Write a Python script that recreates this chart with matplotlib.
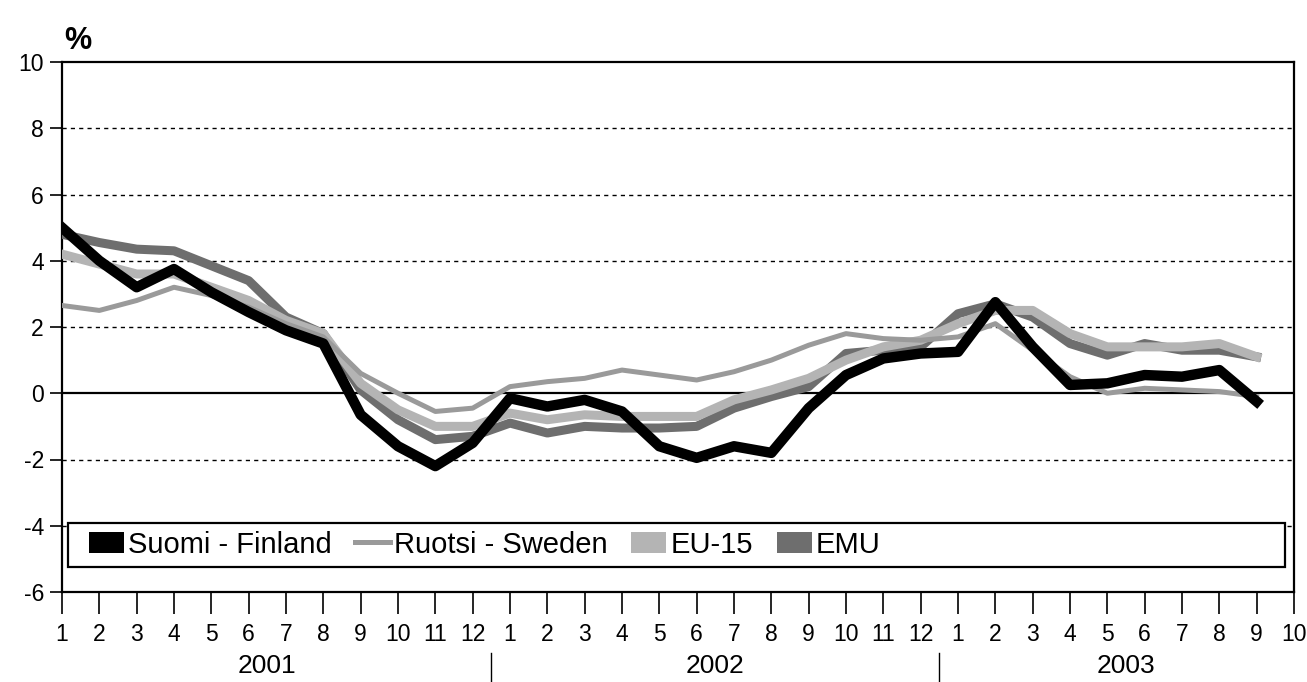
import matplotlib
matplotlib.use("Agg")
import matplotlib.pyplot as plt
from matplotlib.patches import Patch, Rectangle
from matplotlib.lines import Line2D
import matplotlib.transforms as mtransforms

plt.rcParams['font.family'] = ['Liberation Sans', 'DejaVu Sans']
plt.rcParams['axes.unicode_minus'] = False

# monthly values 2001-1 ... 2003-9, %
finland = [5.0, 4.0, 3.2, 3.75, 3.05, 2.45, 1.9, 1.5, -0.65, -1.6, -2.2, -1.5,
           -0.15, -0.4, -0.2, -0.55, -1.6, -1.95, -1.6, -1.8, -0.45, 0.55, 1.05, 1.2,
           1.25, 2.75, 1.4, 0.25, 0.3, 0.55, 0.5, 0.7, -0.25]
sweden = [2.65, 2.5, 2.8, 3.2, 2.95, 2.6, 2.1, 1.7, 0.6, 0.0, -0.55, -0.45,
          0.2, 0.35, 0.45, 0.7, 0.55, 0.4, 0.65, 1.0, 1.45, 1.8, 1.65, 1.6,
          1.7, 2.1, 1.3, 0.5, 0.0, 0.15, 0.1, 0.05, -0.1]
eu15 = [4.2, 3.9, 3.6, 3.6, 3.2, 2.8, 2.2, 1.8, 0.3, -0.5, -1.0, -1.0,
        -0.6, -0.8, -0.65, -0.7, -0.7, -0.7, -0.2, 0.1, 0.45, 1.0, 1.4, 1.6,
        2.1, 2.5, 2.5, 1.8, 1.4, 1.4, 1.4, 1.5, 1.1]
emu = [4.8, 4.55, 4.35, 4.3, 3.85, 3.4, 2.3, 1.8, 0.1, -0.8, -1.4, -1.3,
       -0.9, -1.2, -1.0, -1.05, -1.05, -1.0, -0.45, -0.1, 0.2, 1.2, 1.3, 1.4,
       2.4, 2.7, 2.3, 1.5, 1.15, 1.5, 1.3, 1.3, 1.1]

month_labels = [str(m) for m in range(1, 13)] * 2 + [str(m) for m in range(1, 11)]
years = ["2001", "2002", "2003"]
year_centers = [5.5, 17.5, 28.5]
year_breaks = [11.5, 23.5]

labels = ["Suomi - Finland", "Ruotsi - Sweden", "EU-15", "EMU"]
colors = ["black", "#9a9a9a", "#b4b4b4", "#6e6e6e"]

fig = plt.figure(figsize=(13.07, 6.82), dpi=100)
ax = fig.add_axes([62/1307, 1 - 592/682, 1232/1307, 530/682])

x = list(range(len(finland)))
ax.plot(x, emu, color=colors[3], lw=6.5, solid_joinstyle='round', zorder=3)
ax.plot(x, eu15, color=colors[2], lw=6.5, solid_joinstyle='round', zorder=4)
ax.plot(x, sweden, color=colors[1], lw=3.6, solid_joinstyle='round', zorder=5)
ax.plot(x, finland, color=colors[0], lw=7.5, solid_joinstyle='round', zorder=6)

ax.set_xlim(0, 33)
ax.set_ylim(-6, 10)
ax.set_yticks(range(-6, 11, 2))
ax.set_xticks(range(34))
ax.set_xticklabels(month_labels)

for y in [-4, -2, 2, 4, 6, 8]:
    ax.axhline(y, color='black', lw=1.0, ls=(0, (3, 3)), zorder=1)
ax.axhline(0, color='black', lw=1.6, zorder=2)

for s in ax.spines.values():
    s.set_linewidth(1.6)
ax.tick_params(axis='x', direction='out', length=16, width=1.2, labelsize=16.5, pad=6)
ax.tick_params(axis='y', direction='out', length=9, width=1.2, labelsize=16.5, pad=4)

trans = mtransforms.blended_transform_factory(ax.transData, ax.transAxes)
for yr, c in zip(years, year_centers):
    ax.text(c, -0.14, yr, transform=trans, ha='center', va='center', fontsize=19)
for b in year_breaks:
    ax.plot([b, b], [-0.115, -0.175], transform=trans, color='black', lw=1.0, clip_on=False)

fig.text(64/1307, 1 - 41/682, "%", fontsize=22, fontweight='bold', va='center', ha='left')

# legend box
ax.add_patch(Rectangle((0.005, 0.048), 0.988, 0.083, transform=ax.transAxes,
                       facecolor='white', edgecolor='black', lw=1.6, zorder=7))
handles = [Patch(facecolor=colors[0], edgecolor='none'),
           Line2D([], [], color=colors[1], lw=3.6),
           Patch(facecolor=colors[2], edgecolor='none'),
           Patch(facecolor=colors[3], edgecolor='none')]
leg = ax.legend(handles, labels, loc='center left', bbox_to_anchor=(0.005, 0.0895),
                ncol=4, frameon=False, fontsize=21, handlelength=1.2, handleheight=0.75,
                handletextpad=0.15, columnspacing=0.8, borderpad=0.2)
leg.set_zorder(8)

fig.savefig("out.png", dpi=100)
